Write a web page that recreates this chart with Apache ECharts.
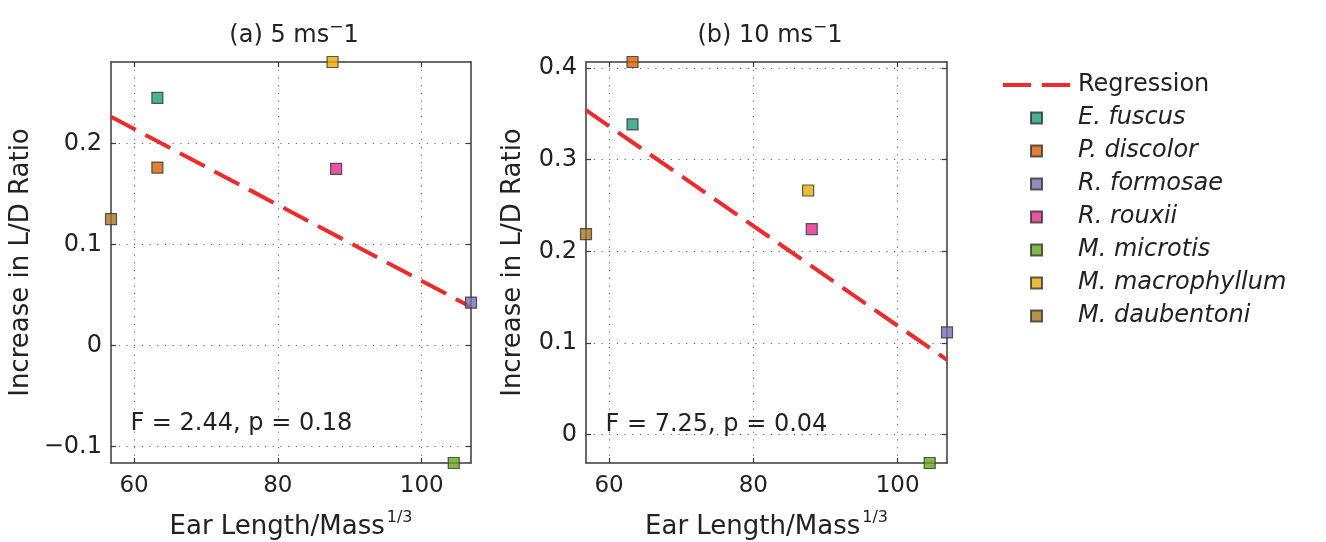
<!DOCTYPE html>
<html>
<head>
<meta charset="utf-8">
<script src="https://cdn.jsdelivr.net/npm/echarts@6/dist/echarts.min.js"></script>
<style>
html,body{margin:0;padding:0;background:#fff;}
#chart{width:1326px;height:542px;}
</style>
</head>
<body>
<div id="chart"></div>
<script>
// ---- data ----
const species = ['E. fuscus', 'P. discolor', 'R. formosae', 'R. rouxii', 'M. microtis', 'M. macrophyllum', 'M. daubentoni'];
const speciesColors = ['#1b9e77', '#d95f02', '#7570b3', '#e7298a', '#66a61e', '#e6ab02', '#a6761d'];
const earLengthMass = [63.25, 63.25, 106.85, 88.1, 104.45, 87.6, 56.8];
const ldIncrease5 = [0.245, 0.176, 0.0423, 0.1746, -0.1165, 0.2805, 0.125];
const ldIncrease10 = [0.3385, 0.4065, 0.1115, 0.2242, -0.031, 0.2663, 0.2188];
const regressionX = [56.8, 106.85];
const regression5 = [0.2263, 0.038];
const regression10 = [0.354, 0.0815];
const xTicks = [60, 80, 100];
const yTicks5 = [-0.1, 0, 0.1, 0.2];
const yTicks10 = [0, 0.1, 0.2, 0.3, 0.4];
const xRange = [56.8, 106.85];
const yRange5 = [-0.1165, 0.2805];
const yRange10 = [-0.031, 0.4065];
const stats = ['F = 2.44, p = 0.18', 'F = 7.25, p = 0.04'];
const statPos5 = [59.5, -0.078];
const statPos10 = [59.5, 0.0105];
const titles = ['(a) 5 ms', '(b) 10 ms'];

// ---- styling ----
const FONT = 'DejaVu Sans';
const TXT = '#222';
const AX = '#3a3a3a';
const RED = '#ee2a2a';
const SQUARE = 'path://M0,0h10v10h-10z';

const chart = echarts.init(document.getElementById('chart'), null, {renderer: 'canvas'});

function fmt(v) {
  if (v < 0) return '\u2212' + Math.abs(v);
  return String(v);
}

function xAxes(gridIndex) {
  return [
    {
      type: 'value', gridIndex, position: 'bottom', min: xRange[0], max: xRange[1],
      axisLine: {show: true, onZero: false, lineStyle: {color: AX, width: 1.5}},
      axisTick: {show: true, inside: true, length: 5, customValues: xTicks, lineStyle: {color: AX, width: 1.2}},
      axisLabel: {show: true, customValues: xTicks, margin: 12, fontSize: 23, fontFamily: FONT, color: TXT, formatter: fmt},
      splitLine: {show: true, lineStyle: {color: '#666', width: 1, type: [1.2, 6.5]}},
      name: '{a|Ear Length/Mass}{s|1/3}',
      nameLocation: 'middle', nameGap: 47,
      nameTextStyle: {
        rich: {
          a: {fontSize: 26, fontFamily: FONT, color: TXT, verticalAlign: 'bottom', lineHeight: 30},
          s: {fontSize: 16, fontFamily: FONT, color: TXT, verticalAlign: 'bottom', padding: [0, 0, 14, 2], lineHeight: 18}
        }
      }
    },
    {
      type: 'value', gridIndex, position: 'top', min: xRange[0], max: xRange[1],
      axisLine: {show: true, onZero: false, lineStyle: {color: AX, width: 1.5}},
      axisTick: {show: true, inside: true, length: 5, customValues: xTicks, lineStyle: {color: AX, width: 1.2}},
      axisLabel: {show: false},
      splitLine: {show: false}
    }
  ];
}

function yAxes(gridIndex, range, ticks, nameGap) {
  return [
    {
      type: 'value', gridIndex, position: 'left', min: range[0], max: range[1],
      axisLine: {show: true, onZero: false, lineStyle: {color: AX, width: 1.5}},
      axisTick: {show: true, inside: true, length: 5, customValues: ticks, lineStyle: {color: AX, width: 1.2}},
      axisLabel: {show: true, customValues: ticks, margin: 9, fontSize: 24, fontFamily: FONT, color: TXT, formatter: fmt},
      splitLine: {show: true, lineStyle: {color: '#666', width: 1, type: [1.2, 6.5]}},
      name: 'Increase in L/D Ratio',
      nameLocation: 'middle', nameGap: nameGap, nameRotate: 90,
      nameTextStyle: {fontSize: 26, fontFamily: FONT, color: TXT}
    },
    {
      type: 'value', gridIndex, position: 'right', min: range[0], max: range[1],
      axisLine: {show: true, onZero: false, lineStyle: {color: AX, width: 1.5}},
      axisTick: {show: true, inside: true, length: 5, customValues: ticks, lineStyle: {color: AX, width: 1.2}},
      axisLabel: {show: false},
      splitLine: {show: false}
    }
  ];
}

const series = [];
const panels = [
  {ys: ldIncrease5, reg: regression5, stat: stats[0], statPos: statPos5},
  {ys: ldIncrease10, reg: regression10, stat: stats[1], statPos: statPos10}
];
panels.forEach((p, i) => {
  const xi = i * 2, yi = i * 2;
  series.push({
    type: 'line', name: 'Regression', xAxisIndex: xi, yAxisIndex: yi,
    data: regressionX.map((x, k) => [x, p.reg[k]]),
    symbol: 'none', showSymbol: false, silent: true, z: 3,
    itemStyle: {color: RED},
    lineStyle: {color: RED, width: 4, type: [28, 11]}
  });
  species.forEach((s, k) => {
    series.push({
      type: 'scatter', name: s, xAxisIndex: xi, yAxisIndex: yi,
      data: [[earLengthMass[k], p.ys[k]]],
      symbol: 'rect', symbolSize: 11, clip: false, z: 5,
      itemStyle: {color: speciesColors[k], borderColor: '#333', borderWidth: 1.2}
    });
  });
  series.push({
    type: 'scatter', name: 'stat' + i, xAxisIndex: xi, yAxisIndex: yi,
    data: [{value: p.statPos, name: p.stat}],
    symbol: 'circle', symbolSize: 0, silent: true,
    itemStyle: {color: '#000'},
    label: {show: true, position: 'right', distance: 0, formatter: '{b}', fontSize: 24, fontFamily: FONT, color: '#222', opacity: 1}
  });
});

const option = {
  backgroundColor: '#fff',
  animation: false,
  title: titles.map((t, i) => ({
    text: '{a|' + t + '}{s|\u2212}{a|1}',
    left: i === 0 ? 289 : 765, top: 13, textAlign: 'center',
    textStyle: {
      fontWeight: 'normal',
      rich: {
        a: {fontSize: 24, fontWeight: 'normal', fontFamily: FONT, color: TXT, verticalAlign: 'bottom', lineHeight: 30},
        s: {fontSize: 17, fontWeight: 'normal', fontFamily: FONT, color: TXT, verticalAlign: 'bottom', padding: [0, 0, 12, 0], lineHeight: 18}
      }
    }
  })),
  grid: [
    {left: 111, top: 62, width: 360, height: 401, containLabel: false, outerBoundsMode: 'none'},
    {left: 586, top: 62, width: 361, height: 401, containLabel: false, outerBoundsMode: 'none'}
  ],
  xAxis: [...xAxes(0), ...xAxes(1)],
  yAxis: [...yAxes(0, yRange5, yTicks5, 77), ...yAxes(1, yRange10, yTicks10, 60)],
  legend: {
    orient: 'vertical', left: 998, top: 68,
    itemWidth: 67, itemHeight: 11, itemGap: 9,
    symbolKeepAspect: true,
    selectedMode: false,
    textStyle: {fontSize: 24, fontFamily: FONT, color: TXT, padding: [0, 0, 0, 3]},
    data: [{name: 'Regression', icon: 'path://M0,0h28v4h-28z M39,0h28v4h-28z', itemStyle: {color: RED, borderWidth: 0}, textStyle: {fontStyle: 'normal'}}].concat(
      species.map(n => ({name: n, icon: SQUARE, textStyle: {fontStyle: 'italic'}})))
  },
  series
};
chart.setOption(option);
</script>
</body>
</html>
